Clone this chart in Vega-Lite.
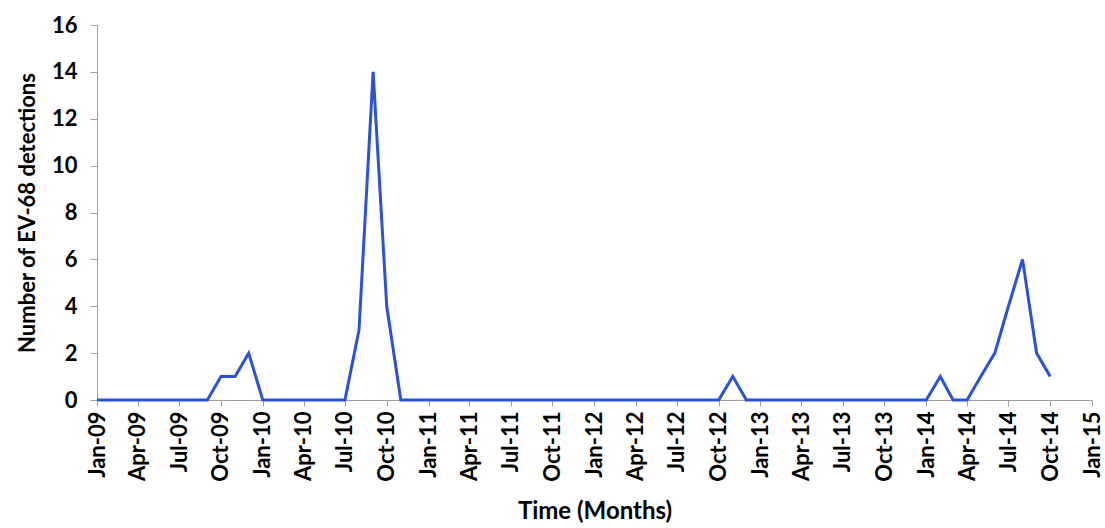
{
  "$schema": "https://vega.github.io/schema/vega-lite/v6.json",
  "width": 995,
  "height": 375,
  "autosize": {"type": "none"},
  "padding": {"left": 97, "top": 25, "right": 13, "bottom": 128},
  "background": "white",
  "config": {
    "view": {"stroke": null},
    "font": "Lato",
    "axis": {
      "labelFont": "Lato",
      "titleFont": "Lato",
      "labelFontWeight": "bold",
      "titleFontWeight": "bold",
      "labelColor": "#000000",
      "titleColor": "#000000",
      "domainColor": "#a0a0a0",
      "tickColor": "#a0a0a0",
      "grid": false
    }
  },
  "data": {
    "values": [
      {"month": "2009-01-01", "count": 0},
      {"month": "2009-02-01", "count": 0},
      {"month": "2009-03-01", "count": 0},
      {"month": "2009-04-01", "count": 0},
      {"month": "2009-05-01", "count": 0},
      {"month": "2009-06-01", "count": 0},
      {"month": "2009-07-01", "count": 0},
      {"month": "2009-08-01", "count": 0},
      {"month": "2009-09-01", "count": 0},
      {"month": "2009-10-01", "count": 1},
      {"month": "2009-11-01", "count": 1},
      {"month": "2009-12-01", "count": 2},
      {"month": "2010-01-01", "count": 0},
      {"month": "2010-02-01", "count": 0},
      {"month": "2010-03-01", "count": 0},
      {"month": "2010-04-01", "count": 0},
      {"month": "2010-05-01", "count": 0},
      {"month": "2010-06-01", "count": 0},
      {"month": "2010-07-01", "count": 0},
      {"month": "2010-08-01", "count": 3},
      {"month": "2010-09-01", "count": 14},
      {"month": "2010-10-01", "count": 4},
      {"month": "2010-11-01", "count": 0},
      {"month": "2010-12-01", "count": 0},
      {"month": "2011-01-01", "count": 0},
      {"month": "2011-02-01", "count": 0},
      {"month": "2011-03-01", "count": 0},
      {"month": "2011-04-01", "count": 0},
      {"month": "2011-05-01", "count": 0},
      {"month": "2011-06-01", "count": 0},
      {"month": "2011-07-01", "count": 0},
      {"month": "2011-08-01", "count": 0},
      {"month": "2011-09-01", "count": 0},
      {"month": "2011-10-01", "count": 0},
      {"month": "2011-11-01", "count": 0},
      {"month": "2011-12-01", "count": 0},
      {"month": "2012-01-01", "count": 0},
      {"month": "2012-02-01", "count": 0},
      {"month": "2012-03-01", "count": 0},
      {"month": "2012-04-01", "count": 0},
      {"month": "2012-05-01", "count": 0},
      {"month": "2012-06-01", "count": 0},
      {"month": "2012-07-01", "count": 0},
      {"month": "2012-08-01", "count": 0},
      {"month": "2012-09-01", "count": 0},
      {"month": "2012-10-01", "count": 0},
      {"month": "2012-11-01", "count": 1},
      {"month": "2012-12-01", "count": 0},
      {"month": "2013-01-01", "count": 0},
      {"month": "2013-02-01", "count": 0},
      {"month": "2013-03-01", "count": 0},
      {"month": "2013-04-01", "count": 0},
      {"month": "2013-05-01", "count": 0},
      {"month": "2013-06-01", "count": 0},
      {"month": "2013-07-01", "count": 0},
      {"month": "2013-08-01", "count": 0},
      {"month": "2013-09-01", "count": 0},
      {"month": "2013-10-01", "count": 0},
      {"month": "2013-11-01", "count": 0},
      {"month": "2013-12-01", "count": 0},
      {"month": "2014-01-01", "count": 0},
      {"month": "2014-02-01", "count": 1},
      {"month": "2014-03-01", "count": 0},
      {"month": "2014-04-01", "count": 0},
      {"month": "2014-05-01", "count": 1},
      {"month": "2014-06-01", "count": 2},
      {"month": "2014-07-01", "count": 4},
      {"month": "2014-08-01", "count": 6},
      {"month": "2014-09-01", "count": 2},
      {"month": "2014-10-01", "count": 1}
    ]
  },
  "mark": {"type": "line", "color": "#2a52d8", "strokeWidth": 3},
  "encoding": {
    "x": {
      "field": "month",
      "type": "temporal",
      "scale": {"domain": [{"year": 2009, "month": 1, "date": 1}, {"year": 2015, "month": 1, "date": 1}]},
      "axis": {
        "title": "Time (Months)",
        "titleFontSize": 24,
        "titlePadding": 18,
        "format": "%b-%y",
        "tickCount": {"interval": "month", "step": 3},
        "labelAngle": -90,
        "labelAlign": "right",
        "labelBaseline": "middle",
        "labelFontSize": 22,
        "labelPadding": 5,
        "tickSize": 6,
        "labelOverlap": false,
        "labelFlush": false
      }
    },
    "y": {
      "field": "count",
      "type": "quantitative",
      "scale": {"domain": [0, 16]},
      "axis": {
        "title": "Number of EV-68 detections",
        "titleFontSize": 22,
        "titlePadding": 12,
        "values": [0, 2, 4, 6, 8, 10, 12, 14, 16],
        "labelFontSize": 22,
        "labelPadding": 13,
        "tickSize": 7
      }
    }
  }
}
